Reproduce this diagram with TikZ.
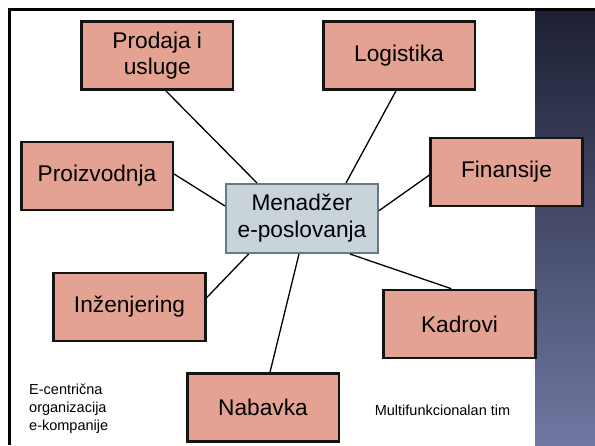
\documentclass[tikz,border=0pt]{standalone}
\usepackage{fontspec}
\setmainfont{Liberation Sans}
\usetikzlibrary{calc}
\definecolor{salmon}{HTML}{E4A392}
\definecolor{mgrfill}{HTML}{C9D3DA}
\definecolor{mgrline}{HTML}{647A88}
\definecolor{paneltop}{HTML}{1D2034}
\definecolor{panelbot}{HTML}{7078A2}
\tikzset{
  dept/.style={draw=black!92, line width=2.6pt, fill=salmon, minimum width=151.6pt, minimum height=68pt, inner sep=0pt, align=center, font=\fontsize{22.7}{26.5}\selectfont},
  mgr/.style={draw=mgrline, line width=2pt, fill=mgrfill, minimum width=152pt, minimum height=69pt, inner sep=0pt, align=center, font=\fontsize{22.7}{27}\selectfont},
  link/.style={line width=1.3pt, black},
  note/.style={inner sep=0pt, font=\fontsize{14.5}{18}\selectfont}
}
\begin{document}
\begin{tikzpicture}[x=1pt,y=-1pt]
\useasboundingbox (0,0) rectangle (595,445);
\fill[white] (0,0) rectangle (595,445);
\shade[top color=paneltop, bottom color=panelbot] (535,11) rectangle (595,445);
\fill[black] (8,8) rectangle (595,11);
\fill[black] (8,8) rectangle (11,445);

\node[mgr] (men) at (302,218.5) {Menadžer\\e-poslovanja};
\node[dept] (prod) at (157.25,55.7) {Prodaja i\\usluge};
\node[dept] (log) at (399,55.5) {Logistika};
\node[dept] (proiz) at (97,176) {Proizvodnja};
\node[dept] (fin) at (506.5,172) {Finansije};
\node[dept] (inz) at (129.5,307) {Inženjering};
\node[dept] (kad) at (459.5,324) {Kadrovi};
\node[dept] (nab) at (263,407.5) {Nabavka};

\draw[link] ($(prod.south)+(8.75,0)$) -- ($(men.north)+(-45,0)$);
\draw[link] ($(log.south)+(-3,0)$) -- ($(men.north)+(44,0)$);
\draw[link] ($(proiz.east)+(0,-2)$) -- ($(men.west)+(0,-12.5)$);
\draw[link] ($(fin.west)+(0,3)$) -- ($(men.east)+(0,-7.8)$);
\draw[link] ($(inz.east)+(0,-9.3)$) -- ($(men.south)+(-53.4,0)$);
\draw[link] ($(nab.north)+(7,0)$) -- ($(men.south)+(-3,0)$);
\draw[link] ($(kad.north)+(-8.2,0)$) -- ($(men.south)+(48,0)$);

\node[note, anchor=north west, align=left] (ecent) at (29,384) {E-centrična\\organizacija\\e-kompanije};
\node[note] (multi) at (442.5,410) {Multifunkcionalan tim};
\end{tikzpicture}
\end{document}
